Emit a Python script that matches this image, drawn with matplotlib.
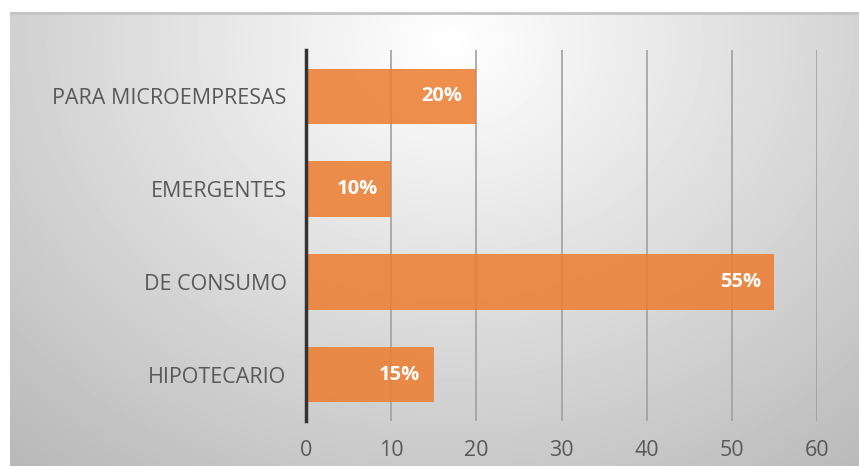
import numpy as np
import matplotlib.pyplot as plt

categories = ['HIPOTECARIO', 'DE CONSUMO', 'EMERGENTES', 'PARA MICROEMPRESAS']
values = [15, 55, 10, 20]
xticks = [0, 10, 20, 30, 40, 50, 60]

fig = plt.figure(figsize=(8.59, 4.66), dpi=100)

# soft radial gray background behind the whole chart
bg = fig.add_axes([10 / 859, 0, 849 / 859, 1 - 12 / 466], zorder=0)
yy, xx = np.mgrid[0:454, 0:849]
r = np.sqrt(((xx - 440) / 600.0) ** 2 + ((yy - 30) / 500.0) ** 2)
shade = 1.0 - 0.25 * np.clip(r, 0, 1.3) ** 1.0
bg.imshow(shade, cmap='gray', vmin=0, vmax=1, aspect='auto',
          interpolation='bilinear')
bg.axhline(0, color='#c4c4c4', lw=2)
bg.axis('off')

ax = fig.add_axes([306 / 859, 45 / 466, (817 - 306) / 859, (416 - 45) / 466], zorder=1)
ax.patch.set_alpha(0)

y = np.arange(len(categories))
ax.barh(y, values, height=0.6, color='#ED7D31', alpha=0.86, zorder=2)

for yi, v in zip(y, values):
    ax.text(v - 1.6, yi, f'{v}%', ha='right', va='center', color='white',
            fontsize=14.5, fontweight='bold', family='Open Sans', zorder=3)

ax.set_xlim(0, 60)
ax.set_ylim(-0.5, 3.5)
ax.set_xticks(xticks)
ax.set_yticks(y)
ax.set_yticklabels(categories)
ax.grid(axis='x', color='#a0a0a0', lw=1.2, zorder=1)
ax.set_axisbelow(True)

for s in ['top', 'right', 'bottom']:
    ax.spines[s].set_visible(False)
ax.spines['left'].set_color('#333333')
ax.spines['left'].set_linewidth(2.5)
ax.spines['left'].set_zorder(4)

ax.tick_params(axis='both', length=0, colors='#595959', labelsize=15.5)
ax.tick_params(axis='x', pad=14)
ax.tick_params(axis='y', pad=14)
for lbl in ax.get_xticklabels() + ax.get_yticklabels():
    lbl.set_family('Open Sans')

fig.savefig('out.png', dpi=100)
